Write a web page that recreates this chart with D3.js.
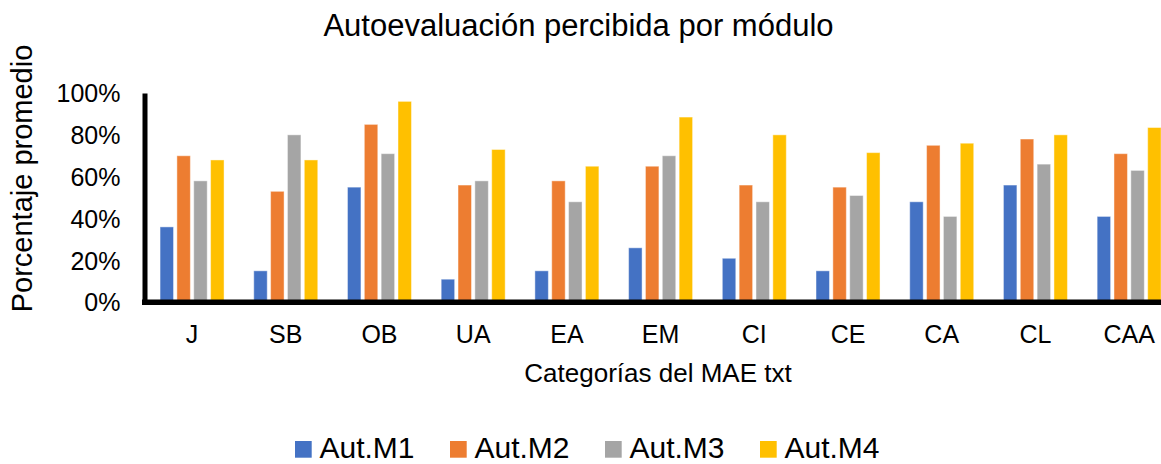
<!DOCTYPE html>
<html>
<head>
<meta charset="utf-8">
<script src="https://cdn.jsdelivr.net/npm/d3@7"></script>
<style>
  html, body { margin: 0; padding: 0; background: #fff; }
  svg { display: block; font-family: "Liberation Sans", Arial, sans-serif; }
</style>
</head>
<body>
<svg id="chart" width="1161" height="464"></svg>
<script>
// Module categories and average self-evaluation (%) per module
const categories = ["J", "SB", "OB", "UA", "EA", "EM", "CI", "CE", "CA", "CL", "CAA"];
const seriesNames = ["Aut.M1", "Aut.M2", "Aut.M3", "Aut.M4"];
const autM1 = [36, 15, 55, 11, 15, 26, 21, 15, 48, 56, 41];
const autM2 = [70, 53, 85, 56, 58, 65, 56, 55, 75, 78, 71];
const autM3 = [58, 80, 71, 58, 48, 70, 48, 51, 41, 66, 63];
const autM4 = [68, 68, 96, 73, 65, 88.5, 80, 71.5, 76, 80, 83.5];
const yTicks = [0, 20, 40, 60, 80, 100];
const colors = ["#4472C4", "#ED7D31", "#A5A5A5", "#FFC000"];

const seriesValues = [autM1, autM2, autM3, autM4];
const rows = categories.map((c, i) => ({
  cat: c,
  vals: seriesNames.map((s, k) => ({ key: s, value: seriesValues[k][i] }))
}));

const svg = d3.select("#chart");

const x0 = d3.scaleBand()
  .domain(categories)
  .range([145.2, 1176])
  .paddingInner(0.317)
  .paddingOuter(0.1585);

const x1 = d3.scaleBand()
  .domain(seriesNames)
  .range([0, x0.bandwidth()])
  .paddingInner(0.2)
  .paddingOuter(0);

const color = d3.scaleOrdinal().domain(seriesNames).range(colors);

const y = d3.scaleLinear().domain([0, 100]).range([302.2, 93]);

// Bars
svg.append("g")
  .selectAll("g")
  .data(rows)
  .join("g")
  .attr("transform", d => `translate(${x0(d.cat)},0)`)
  .selectAll("rect")
  .data(d => d.vals)
  .join("rect")
  .attr("x", d => x1(d.key))
  .attr("y", d => y(d.value))
  .attr("width", x1.bandwidth())
  .attr("height", d => y(0) - y(d.value))
  .attr("fill", d => color(d.key))
  .attr("stroke", "rgba(255,255,255,0.45)")
  .attr("stroke-width", 1);

// Y axis
const yAxis = svg.append("g")
  .attr("transform", "translate(144.5,0)")
  .call(d3.axisLeft(y).tickValues(yTicks).tickSize(0).tickPadding(24).tickFormat(d => d + "%"));
yAxis.select(".domain").attr("stroke", "#000").attr("stroke-width", 5);
yAxis.selectAll("text")
  .attr("font-size", 25)
  .attr("font-family", "Liberation Sans, Arial, sans-serif")
  .attr("fill", "#000")
  .attr("dy", "0.35em");

// X axis
const xAxis = svg.append("g")
  .attr("transform", `translate(0,${y(0)})`)
  .call(d3.axisBottom(x0).tickSize(0).tickPadding(23));
xAxis.select(".domain")
  .attr("d", `M142,0H1161`)
  .attr("stroke", "#000")
  .attr("stroke-width", 5.5);
xAxis.selectAll("text")
  .attr("font-size", 25)
  .attr("font-family", "Liberation Sans, Arial, sans-serif")
  .attr("fill", "#000");

// Title
svg.append("text")
  .attr("x", 578.5)
  .attr("y", 36)
  .attr("text-anchor", "middle")
  .attr("font-size", 31)
  .attr("fill", "#000")
  .text("Autoevaluación percibida por módulo");

// Axis titles
svg.append("text")
  .attr("transform", "translate(32,178.5) rotate(-90)")
  .attr("text-anchor", "middle")
  .attr("font-size", 29)
  .attr("fill", "#000")
  .text("Porcentaje promedio");

svg.append("text")
  .attr("x", 658)
  .attr("y", 382)
  .attr("text-anchor", "middle")
  .attr("font-size", 26)
  .attr("fill", "#000")
  .text("Categorías del MAE txt");

// Legend
const legend = svg.append("g")
  .selectAll("g")
  .data(seriesNames)
  .join("g")
  .attr("transform", (d, i) => `translate(${295 + i * 155},0)`);
legend.append("rect")
  .attr("x", 0)
  .attr("y", 441)
  .attr("width", 16.7)
  .attr("height", 16.7)
  .attr("fill", d => color(d));
legend.append("text")
  .attr("x", 24.5)
  .attr("y", 458)
  .attr("font-size", 30)
  .attr("fill", "#000")
  .text(d => d);
</script>
</body>
</html>
